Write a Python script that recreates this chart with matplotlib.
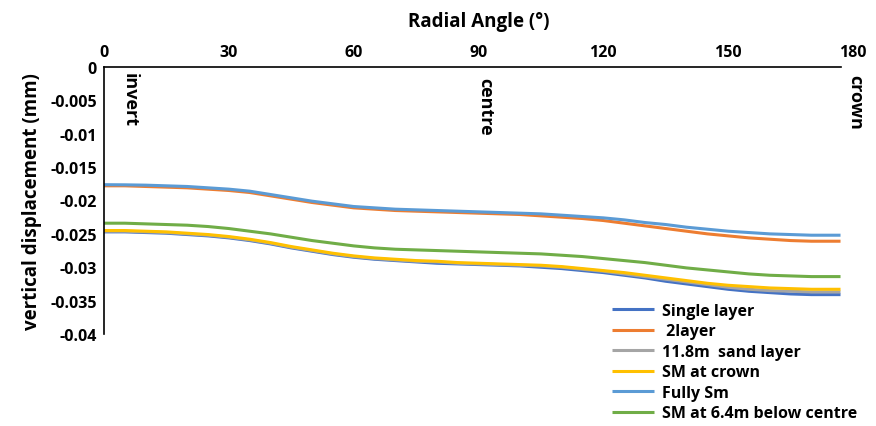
import matplotlib
matplotlib.use("Agg")
import matplotlib.pyplot as plt

plt.rcParams['font.family'] = ['Open Sans', 'DejaVu Sans']
plt.rcParams['font.weight'] = 'bold'

angles = [0, 5, 10, 15, 20, 25, 30, 35, 40, 45, 50, 55, 60, 65, 70, 75, 80, 85, 90,
          95, 100, 105, 110, 115, 120, 125, 130, 135, 140, 145, 150, 155, 160, 165, 170, 177]

single_layer = [-0.0247, -0.0247, -0.0248, -0.0249, -0.0251, -0.0253, -0.0256, -0.0260, -0.0265, -0.0271,
                -0.0276, -0.0281, -0.0285, -0.0288, -0.0290, -0.0292, -0.0294, -0.0295, -0.0296,
                -0.0297, -0.0298, -0.0300, -0.0302, -0.0305, -0.0308, -0.0312, -0.0316, -0.0321,
                -0.0325, -0.0329, -0.0333, -0.0336, -0.0338, -0.0340, -0.0341, -0.0341]
two_layer = [-0.0178, -0.0178, -0.0179, -0.0180, -0.0181, -0.0183, -0.0185, -0.0188, -0.0193, -0.0198,
             -0.0203, -0.0207, -0.0211, -0.0213, -0.0215, -0.0216, -0.0217, -0.0218, -0.0219,
             -0.0220, -0.0221, -0.0223, -0.0225, -0.0227, -0.0230, -0.0234, -0.0238, -0.0242,
             -0.0246, -0.0250, -0.0253, -0.0256, -0.0258, -0.0260, -0.0261, -0.0261]
sand_layer = [-0.0246, -0.0246, -0.0247, -0.0248, -0.0250, -0.0252, -0.0255, -0.0259, -0.0264, -0.0270,
              -0.0275, -0.0280, -0.0284, -0.0287, -0.0289, -0.0291, -0.0292, -0.0294, -0.0295,
              -0.0296, -0.0297, -0.0298, -0.0300, -0.0303, -0.0306, -0.0310, -0.0314, -0.0318,
              -0.0322, -0.0326, -0.0330, -0.0333, -0.0335, -0.0336, -0.0337, -0.0337]
sm_crown = [-0.0245, -0.0245, -0.0246, -0.0247, -0.0249, -0.0251, -0.0254, -0.0258, -0.0263, -0.0269,
            -0.0274, -0.0279, -0.0283, -0.0286, -0.0288, -0.0290, -0.0291, -0.0293, -0.0294,
            -0.0295, -0.0296, -0.0297, -0.0299, -0.0302, -0.0305, -0.0308, -0.0312, -0.0316,
            -0.0320, -0.0324, -0.0327, -0.0329, -0.0331, -0.0332, -0.0333, -0.0333]
fully_sm = [-0.01763, -0.01765, -0.0177, -0.0178, -0.0179, -0.0181, -0.0183, -0.0186, -0.0191, -0.0196,
            -0.0201, -0.0205, -0.0209, -0.0211, -0.0213, -0.0214, -0.0215, -0.0216, -0.0217,
            -0.0218, -0.0219, -0.0220, -0.0222, -0.0224, -0.0226, -0.0229, -0.0233, -0.0236,
            -0.0240, -0.0243, -0.0246, -0.0248, -0.0250, -0.0251, -0.0252, -0.0252]
sm_below_centre = [-0.0234, -0.0234, -0.0235, -0.0236, -0.0237, -0.0239, -0.0242, -0.0246, -0.0250, -0.0255,
                   -0.0260, -0.0264, -0.0268, -0.0271, -0.0273, -0.0274, -0.0275, -0.0276, -0.0277,
                   -0.0278, -0.0279, -0.0280, -0.0282, -0.0284, -0.0287, -0.0290, -0.0293, -0.0297,
                   -0.0301, -0.0304, -0.0307, -0.0310, -0.0312, -0.0313, -0.0314, -0.0314]

series_names = ["Single layer", " 2layer", "11.8m  sand layer", "SM at crown", "Fully Sm", "SM at 6.4m below centre"]
series_colors = ["#4472C4", "#ED7D31", "#A5A5A5", "#FFC000", "#5B9BD5", "#70AD47"]
series_values = [single_layer, two_layer, sand_layer, sm_crown, fully_sm, sm_below_centre]

x_ticks = [0, 30, 60, 90, 120, 150, 180]
y_ticks = [0, -0.005, -0.01, -0.015, -0.02, -0.025, -0.03, -0.035, -0.04]
y_tick_labels = ["0", "-0.005", "-0.01", "-0.015", "-0.02", "-0.025", "-0.03", "-0.035", "-0.04"]

annotations = [("invert", 6.2, -0.0007), ("centre", 91.6, -0.0015), ("crown", 180.5, -0.001)]

fig = plt.figure(figsize=(8.76, 4.27), dpi=100)
ax = fig.add_axes([104/876, 1 - 335/427, (853 - 104)/876, (335 - 68)/427])

handles = []
for name, color, vals in zip(series_names, series_colors, series_values):
    h, = ax.plot(angles, vals, color=color, lw=2.2, label=name, solid_capstyle='butt')
    handles.append(h)

ax.set_xlim(0, 180)
ax.set_ylim(-0.04, 0)
ax.xaxis.tick_top()
ax.xaxis.set_label_position('top')
ax.set_xticks(x_ticks)
ax.set_yticks(y_ticks)
ax.set_yticklabels(y_tick_labels)
ax.tick_params(axis='both', length=0, labelsize=11.5, pad=5)
for lab in ax.get_xticklabels() + ax.get_yticklabels():
    lab.set_fontweight('bold')

ax.spines['right'].set_visible(False)
ax.spines['bottom'].set_visible(False)
ax.spines['top'].set_bounds(0, 177)
for s in ('top', 'left'):
    ax.spines[s].set_linewidth(1.2)
    ax.spines[s].set_color('black')

ax.set_xlabel("Radial Angle (°)", fontsize=13.5, fontweight='bold', labelpad=13)
ax.set_ylabel("vertical displacement (mm)", fontsize=13.5, fontweight='bold', labelpad=6)

for txt, xv, yv in annotations:
    ax.text(xv, yv, txt, rotation=-90, ha='center', va='top', fontsize=13,
            fontweight='bold', clip_on=False)

fig.legend(handles=handles, loc='upper left', bbox_to_anchor=(612/876, 1 - 304/427),
           frameon=False, handlelength=2.6, handletextpad=0.5,
           labelspacing=0.28, borderpad=0, borderaxespad=0,
           prop={'weight': 'bold', 'size': 11.5})

fig.savefig("out.png", dpi=100)
